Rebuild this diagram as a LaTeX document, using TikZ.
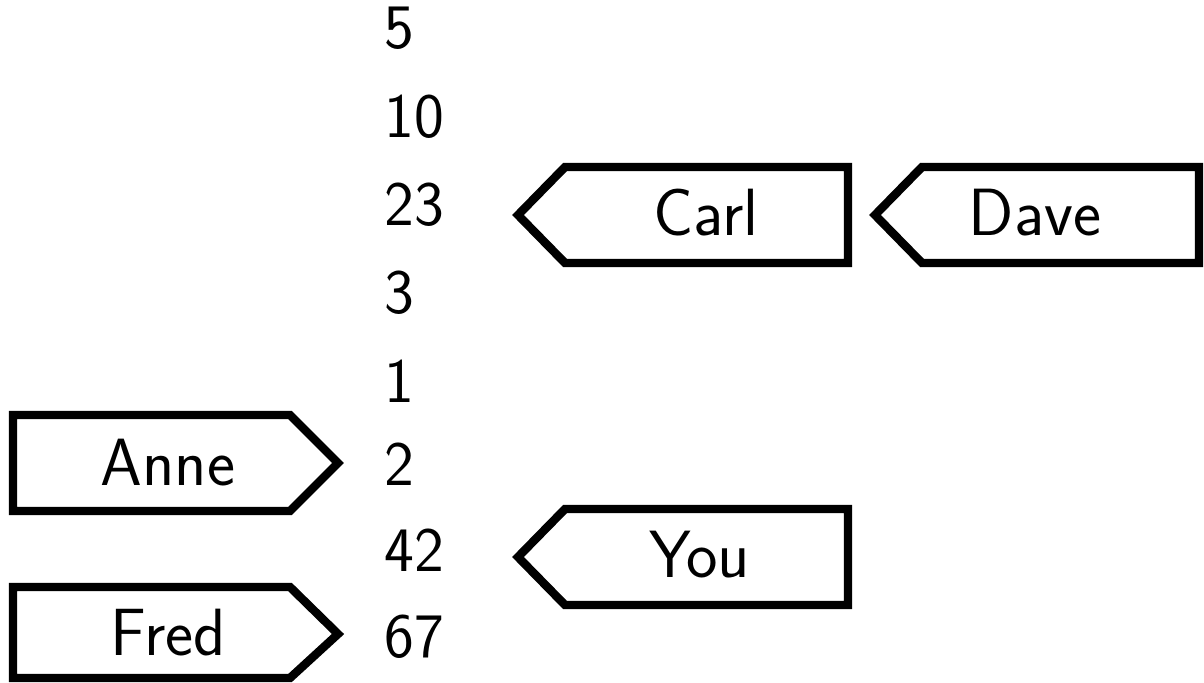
\documentclass[tikz,border=0pt]{standalone}
\usepackage{tikz}
\usetikzlibrary{positioning}

\tikzset{
  tag/.style={draw, line width=2.4pt, line join=miter, fill=white},
  tagtext/.style={font=\sffamily\fontsize{19}{22}\selectfont},
  numtext/.style={font=\sffamily\fontsize{18}{21}\selectfont, anchor=west}
}

\begin{document}
\begin{tikzpicture}[x=0.01cm, y=-0.01cm]
    \useasboundingbox (0,0) rectangle (1204,682);
    % numbers
    \node[numtext] (n5) at (372,28) {5};
    \node[numtext] (n10) at (372,117) {10};
    \node[numtext] (n23) at (372,205) {23};
    \node[numtext] (n3) at (372,293) {3};
    \node[numtext] (n1) at (372,381) {1};
    \node[numtext] (n2) at (372,464) {2};
    \node[numtext] (n42) at (372,550) {42};
    \node[numtext] (n67) at (372,637) {67};
    % tags pointing left
    \draw[tag] (518,215) -- (565,167) -- (848,167) -- (848,263) -- (565,263) -- cycle;
    \node[tagtext] (carl) at (706,213) {Carl};
    \draw[tag] (875,215) -- (922,167) -- (1199,167) -- (1199,263) -- (922,263) -- cycle;
    \node[tagtext] (dave) at (1035,213) {Dave};
    \draw[tag] (518,557) -- (565,509) -- (848,509) -- (848,605) -- (565,605) -- cycle;
    \node[tagtext] (you) at (700,555) {You};
    % tags pointing right
    \draw[tag] (338,463) -- (290,415) -- (13,415) -- (13,511) -- (290,511) -- cycle;
    \node[tagtext] (anne) at (168,463) {Anne};
    \draw[tag] (338,634) -- (290,587) -- (13,587) -- (13,678) -- (290,678) -- cycle;
    \node[tagtext] (fred) at (168,633) {Fred};
  \end{tikzpicture}
\end{document}
